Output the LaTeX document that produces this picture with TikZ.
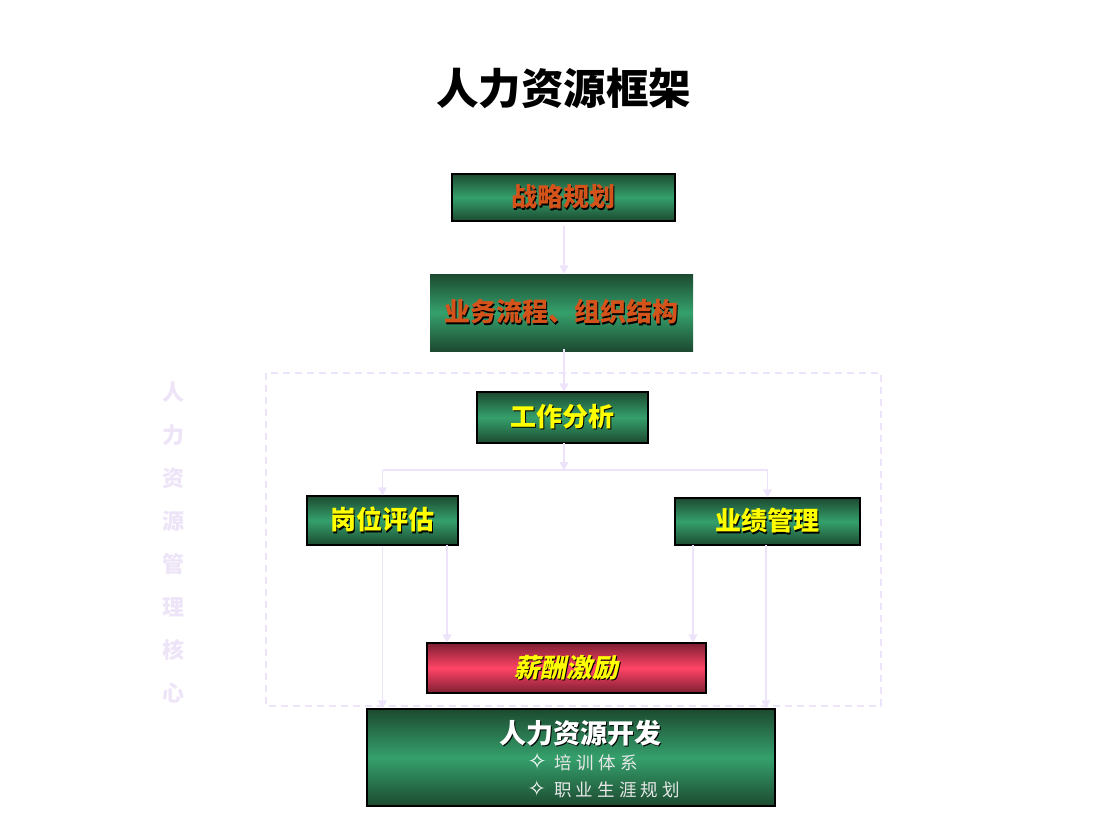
\documentclass[tikz,border=0pt]{standalone}
\usepackage{fontspec}
\usetikzlibrary{arrows.meta,calc}
\newfontfamily\cjk{Noto Sans CJK SC}
\newfontfamily\cjkit[FakeSlant=0.2]{Noto Sans CJK SC}
\newfontfamily\cjkls[LetterSpace=24]{Noto Sans CJK SC}
\newfontfamily\symf{DejaVu Sans}
\definecolor{gdark}{HTML}{1C4A30}
\definecolor{glight}{HTML}{35A06C}
\definecolor{rdark}{HTML}{7E1E32}
\definecolor{rlight}{HTML}{FF4466}
\definecolor{orangetxt}{HTML}{D4531A}
\definecolor{yellowtxt}{HTML}{FFFF00}
\definecolor{lav}{HTML}{EDE3FA}
\definecolor{lavtxt}{HTML}{EEE4F8}
\definecolor{lighttxt}{HTML}{E8E8E8}
\newcommand{\shtext}[2]{\rlap{\raisebox{-1.3pt}{\kern1.3pt\textcolor{black}{#2}}}\textcolor{#1}{#2}}
\begin{document}
\begin{tikzpicture}[x=1pt,y=-1pt,
  gbox/.style={draw=black, line width=1.2pt, top color=gdark, bottom color=gdark, middle color=glight, inner sep=0pt},
  rbox/.style={draw=black, line width=1.2pt, top color=rdark, bottom color=rdark, middle color=rlight, inner sep=0pt},
  boxtxt/.style={font=\cjk\bfseries\fontsize{26}{30}\selectfont},
  conn/.style={draw=lav, line width=1.5pt, -{Triangle[width=9pt,length=8pt]}},
  plain/.style={draw=lav, line width=1.5pt}
]
\useasboundingbox (0,0) rectangle (1100,825);
% title
\node[font=\cjk\bfseries\fontsize{42.5}{46}\selectfont] (title) at (563.5,88) {人力资源框架};
% dashed frame
\draw[lav, line width=1.3pt, dash pattern=on 7pt off 5pt] (266,373) rectangle (881,706);
% vertical label
\node[font=\cjk\bfseries\fontsize{22}{43}\selectfont, text=lavtxt, align=center, anchor=north] (vlabel) at (173,378)
  {人\\力\\资\\源\\管\\理\\核\\心};
% boxes
\node[gbox, minimum width=223pt, minimum height=47pt, boxtxt] (zl) at (563.5,197.5) {\shtext{orangetxt}{战略规划}};
\node[gbox, draw=none, minimum width=263pt, minimum height=77pt, boxtxt] (yw) at (561.5,312.5) {\shtext{orangetxt}{业务流程、组织结构}};
\node[gbox, minimum width=171pt, minimum height=51pt, boxtxt] (gz) at (562.5,417.5) {\shtext{yellowtxt}{工作分析}};
\node[gbox, minimum width=151pt, minimum height=49pt, boxtxt] (gw) at (382.5,520.5) {\shtext{yellowtxt}{岗位评估}};
\node[gbox, minimum width=185pt, minimum height=47pt, boxtxt] (yj) at (767.5,521.5) {\shtext{yellowtxt}{业绩管理}};
\node[rbox, minimum width=279pt, minimum height=50pt, font=\cjkit\bfseries\fontsize{26}{30}\selectfont] (xc) at (566.5,668) {\shtext{yellowtxt}{薪酬激励}};
\node[gbox, minimum width=408pt, minimum height=97pt] (dev) at (571,757.5) {};
\node[font=\cjk\bfseries\fontsize{27}{30}\selectfont] (devt) at (580,734) {\shtext{white}{人力资源开发}};
\node[anchor=west, font=\cjkls\fontsize{17.5}{20}\selectfont, text=lighttxt] (l1) at (524,762) {{\symf\bfseries\fontsize{23}{20}\selectfont\textcolor{white}{✧}} 培训体系};
\node[anchor=west, font=\cjkls\fontsize{17.5}{20}\selectfont, text=lighttxt] (l2) at (524,789) {{\symf\fontsize{22}{20}\selectfont\textcolor{white}{✧}} 职业生涯规划};
% connectors
\coordinate (c1) at (564,226);
\draw[conn] (c1) -- (c1 |- yw.north);
\coordinate (c2) at (564,349);
\draw[conn] (c2) -- (c2 |- gz.north);
\coordinate (split) at (564,470);
\coordinate (c3) at (564,443);
\draw[conn] (c3) -- (split);
\draw[plain] (gw.north |- split) -- (yj.north |- split);
\draw[conn] (gw.north |- split) -- (gw.north);
\draw[conn] (yj.north |- split) -- (yj.north);
\draw[conn] (gw.south) -- (gw.south |- dev.north);
\coordinate (ga) at (447,545);
\draw[conn] (ga) -- (ga |- xc.north);
\coordinate (ya) at (693,545);
\draw[conn] (ya) -- (ya |- xc.north);
\coordinate (yb) at (766,545);
\draw[conn] (yb) -- (yb |- dev.north);
\end{tikzpicture}
\end{document}
